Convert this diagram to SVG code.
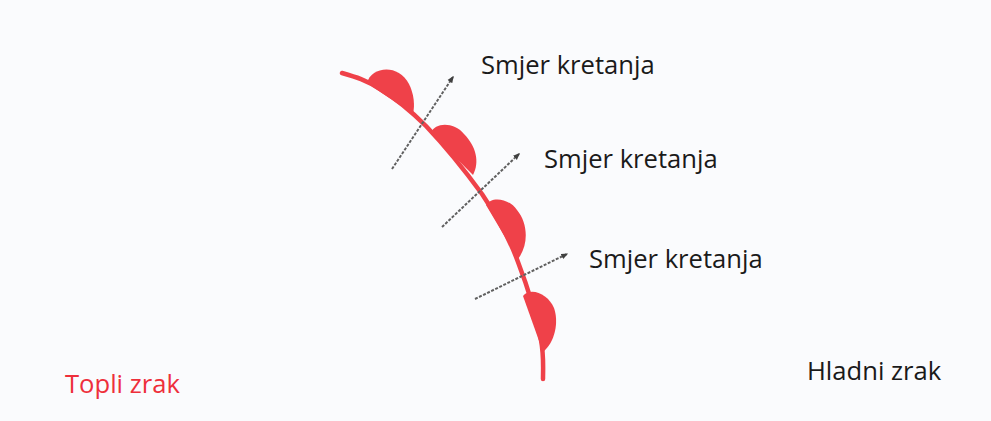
<svg xmlns="http://www.w3.org/2000/svg" width="991" height="421" viewBox="0 0 991 421">
<style>
.lbl{font-family:"Open Sans","Liberation Sans",sans-serif;font-size:25.6px;fill:#1a1a1a}
.warm{fill:#ee2f3b}
.front{fill:none;stroke:#ef4149;stroke-width:4.5;stroke-linecap:round;stroke-linejoin:round}
.bump{fill:#ef4149}
.arr{fill:none;stroke:#606060;stroke-width:2;stroke-dasharray:3 1.5;marker-end:url(#ah)}
</style>
<defs>
<marker id="ah" viewBox="0 0 10 10" refX="8" refY="5" markerWidth="3.5" markerHeight="3.5" orient="auto" markerUnits="strokeWidth">
<path d="M0,1 L10,5 L0,9 Z" fill="#404040"/>
</marker>
</defs>
<rect width="991" height="421" fill="#fafbfd"/>
<g id="warm-front">
<path class="front" d="M342,73 C356,77 366,80 380,89 C398,100 412,112 426,126 C444,145 466,172 482,194 C498,218 510,240 518,262 C528,288 536,314 541,340 C544,356 543,368 543,379"/>
<path class="bump" d="M367,83 C371,67 398,63 409,84 C414,94 415,105 413,114 Z"/>
<path class="bump" d="M431,133 C435,122 454,122 464,134 C476,146 480,162 473,175 Z"/>
<path class="bump" d="M486,205 C491,196 509,198 517,210 C528,223 529,245 518,259 Z"/>
<path class="bump" d="M523,296 C531,286 549,295 554,308 C559,322 555,342 543,352 Z"/>
</g>
<g id="connectors">
<line class="arr" x1="392" y1="169" x2="453" y2="77"/>
<line class="arr" x1="442" y1="227" x2="519" y2="154"/>
<line class="arr" x1="475" y1="299" x2="567" y2="254"/>
</g>
<g id="label-smjer-1"><text class="lbl" x="481" y="74">Smjer kretanja</text></g>
<g id="label-smjer-2"><text class="lbl" x="544" y="168">Smjer kretanja</text></g>
<g id="label-smjer-3"><text class="lbl" x="589" y="268">Smjer kretanja</text></g>
<g id="label-topli"><text class="lbl warm" x="65" y="393">Topli zrak</text></g>
<g id="label-hladni"><text class="lbl" x="807" y="380">Hladni zrak</text></g>
</svg>
